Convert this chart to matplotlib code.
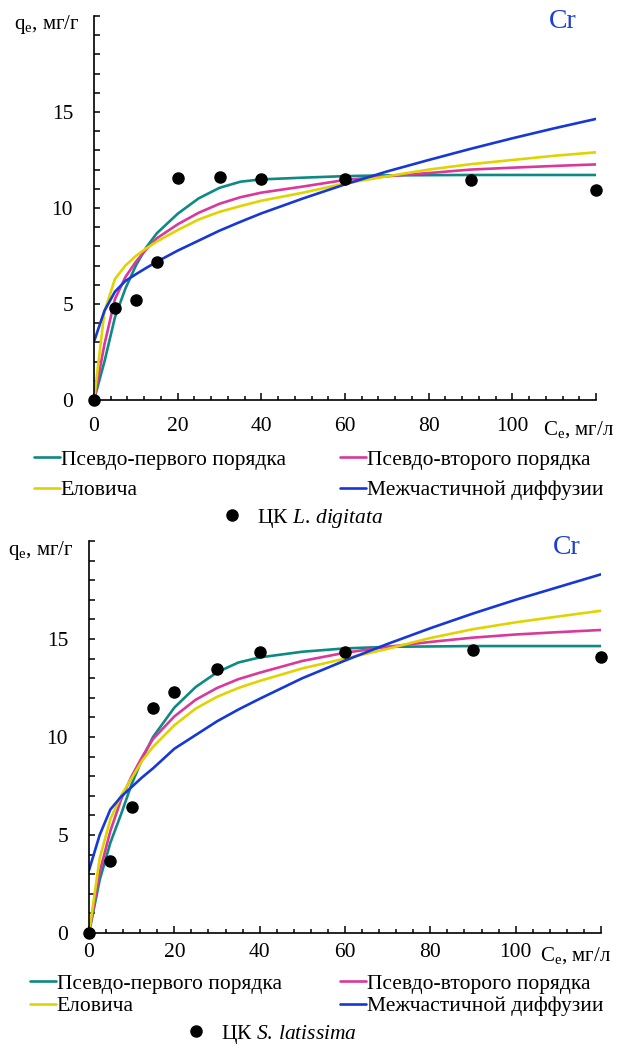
import matplotlib
matplotlib.use('Agg')
import matplotlib.pyplot as plt
from matplotlib.ticker import MultipleLocator, FixedLocator
from matplotlib.lines import Line2D

plt.rcParams['font.family'] = ['Liberation Serif', 'DejaVu Serif']
plt.rcParams['mathtext.fontset'] = 'custom'
plt.rcParams['mathtext.rm'] = 'Liberation Serif'
plt.rcParams['mathtext.it'] = 'Liberation Serif:italic'

# data
t_exp = [0, 5, 10, 15, 20, 30, 40, 60, 90, 120]
t_fit = [0, 2.5, 5, 7.5, 10, 12.5, 15, 20, 25, 30, 35, 40, 50, 60, 70, 80, 90, 100, 110, 120]

# L. digitata
ld_exp = [0, 4.79, 5.2, 7.2, 11.57, 11.62, 11.5, 11.5, 11.47, 10.94]
ld_pfo = [0, 2.0, 4.3, 5.8, 7.0, 7.95, 8.68, 9.7, 10.5, 11.05, 11.37, 11.49, 11.58, 11.66, 11.7, 11.71, 11.72, 11.72, 11.72, 11.72]
ld_pso = [0, 2.9, 5.25, 6.4, 7.2, 7.85, 8.42, 9.15, 9.75, 10.22, 10.56, 10.8, 11.12, 11.46, 11.65, 11.82, 12.0, 12.1, 12.19, 12.27]
ld_elov = [0, 4.6, 6.3, 7.0, 7.5, 7.9, 8.25, 8.85, 9.4, 9.8, 10.1, 10.38, 10.8, 11.28, 11.65, 12.0, 12.28, 12.5, 12.72, 12.9]
ld_ipd = [3.04, 4.65, 5.64, 6.2, 6.55, 6.88, 7.2, 7.78, 8.3, 8.82, 9.28, 9.72, 10.5, 11.23, 11.9, 12.5, 13.08, 13.63, 14.15, 14.64]

# S. latissima
sl_exp = [0, 3.69, 6.41, 11.5, 12.31, 13.47, 14.32, 14.34, 14.44, 14.07]
sl_pfo = [0, 2.7, 4.6, 6.05, 7.6, 8.9, 10.0, 11.5, 12.55, 13.3, 13.8, 14.06, 14.35, 14.52, 14.6, 14.62, 14.64, 14.64, 14.64, 14.64]
sl_pso = [0, 3.1, 5.2, 6.8, 8.0, 9.0, 9.9, 11.05, 11.9, 12.5, 12.95, 13.28, 13.88, 14.3, 14.6, 14.85, 15.07, 15.23, 15.35, 15.46]
sl_elov = [0, 3.8, 5.8, 7.0, 7.9, 8.8, 9.5, 10.6, 11.45, 12.05, 12.5, 12.86, 13.5, 14.0, 14.5, 15.05, 15.5, 15.85, 16.15, 16.44]
sl_ipd = [3.2, 5.0, 6.3, 6.95, 7.45, 7.95, 8.4, 9.4, 10.1, 10.8, 11.4, 11.95, 13.0, 13.9, 14.75, 15.55, 16.3, 17.0, 17.65, 18.3]

model_names = ['Псевдо-первого порядка', 'Псевдо-второго порядка', 'Еловича', 'Межчастичной диффузии']
model_colors = ['#0e8a84', '#d9389c', '#e0d400', '#1538d6']
x_ticks = [0, 20, 40, 60, 80, 100, 120]
x_labels = ['0', '20', '40', '60', '80', '100', '']
y_ticks = [0, 5, 10, 15]

W, H = 627, 1048
FS = 15.5


def fx(px):
    return px / W


def fy(py):
    return 1 - py / H


fig = plt.figure(figsize=(W / 100, H / 100), dpi=100)

panels = [
    dict(rect=[fx(94), fy(400), fx(596) - fx(94), fy(16) - fy(400)],
         exp=ld_exp, fits=[ld_pfo, ld_pso, ld_elov, ld_ipd],
         species=r'ЦК $\mathit{L.\,digitata}$',
         xpad=12.5, ylab=(14, 25), cr=(563, 22), xlab=(543, 430),
         col_y=475, col1=34, col2=340, lspace=0.47, dot=(221, 518)),
    dict(rect=[fx(89), fy(933), fx(601) - fx(89), fy(541) - fy(933)],
         exp=sl_exp, fits=[sl_pfo, sl_pso, sl_elov, sl_ipd],
         species=r'ЦК $\mathit{S.\,latissima}$',
         xpad=7.5, ylab=(8, 551), cr=(567, 547), xlab=(540, 956),
         col_y=995, col1=30, col2=340, lspace=0.1, dot=(185, 1034)),
]

for p in panels:
    ax = fig.add_axes(p['rect'])
    handles = []
    for vals, name, c in zip(p['fits'], model_names, model_colors):
        ln, = ax.plot(t_fit, vals, color=c, lw=1.9, label=name, solid_capstyle='round')
        handles.append(ln)
    ax.plot(t_exp, p['exp'], 'o', color='black', ms=8, clip_on=False, zorder=5)

    ax.set_xlim(0, 120)
    ax.set_ylim(0, 20)
    for s in ['top', 'right']:
        ax.spines[s].set_visible(False)
    for s in ['left', 'bottom']:
        ax.spines[s].set_linewidth(1.2)

    ax.xaxis.set_major_locator(FixedLocator(x_ticks))
    ax.set_xticklabels(x_labels)
    ax.xaxis.set_minor_locator(MultipleLocator(4))
    ax.yaxis.set_major_locator(FixedLocator(y_ticks))
    ax.yaxis.set_minor_locator(MultipleLocator(1))
    ax.tick_params(axis='x', which='major', direction='in', length=5, width=1.1,
                   labelsize=FS, pad=p['xpad'])
    ax.tick_params(axis='x', which='minor', direction='in', length=3, width=1.1)
    ax.tick_params(axis='y', which='both', direction='in', length=4.3, width=1.1,
                   labelsize=FS, pad=15)

    fig.text(fx(p['ylab'][0]), fy(p['ylab'][1]), r'q$_\mathregular{e}$, мг/г',
             fontsize=FS - 0.5, ha='left', va='center')
    fig.text(fx(p['xlab'][0]), fy(p['xlab'][1]), r'C$_\mathregular{e}$, мг/л',
             fontsize=FS - 0.5, ha='left', va='center')
    fig.text(fx(p['cr'][0]), fy(p['cr'][1]), 'Cr', fontsize=20, color='#1a3fd6',
             ha='center', va='center')

    common = dict(frameon=False, fontsize=FS, handlelength=1.2, handletextpad=0.05,
                  borderpad=0, borderaxespad=0, labelspacing=p['lspace'], loc='center left')
    fig.legend([handles[0], handles[2]], [model_names[0], model_names[2]],
               bbox_to_anchor=(fx(p['col1']), fy(p['col_y'])), **common)
    fig.legend([handles[1], handles[3]], [model_names[1], model_names[3]],
               bbox_to_anchor=(fx(p['col2']), fy(p['col_y'])), **common)
    dot = Line2D([], [], ls='none', marker='o', color='black', ms=8)
    fig.legend([dot], [p['species']], frameon=False, fontsize=FS, handlelength=1.0,
               handletextpad=0.65, borderpad=0, borderaxespad=0, loc='center left',
               bbox_to_anchor=(fx(p['dot'][0]), fy(p['dot'][1])))

fig.savefig('out.png', dpi=100)
